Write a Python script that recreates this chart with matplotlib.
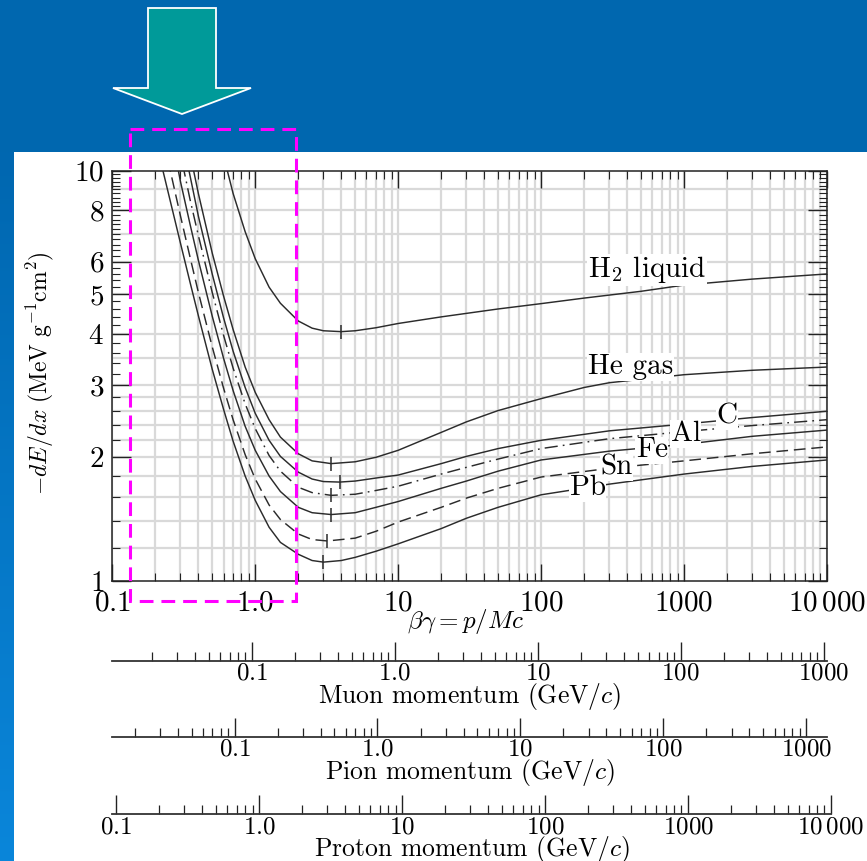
import numpy as np
import matplotlib
matplotlib.use('Agg')
import matplotlib.pyplot as plt
from matplotlib.patches import Rectangle, Polygon
from matplotlib.colors import LinearSegmentedColormap
from matplotlib.ticker import FixedLocator, FixedFormatter, NullFormatter, LogLocator

plt.rcParams['mathtext.fontset'] = 'cm'
plt.rcParams['font.family'] = ['cmr10', 'DejaVu Serif']
plt.rcParams['axes.unicode_minus'] = False
plt.rcParams['axes.formatter.use_mathtext'] = True

# ---------------- data ----------------
bg_h2 = [0.62, 0.7, 0.85, 1.0, 1.25, 1.5, 2, 2.5, 3, 4, 5, 7, 10, 20, 50, 100, 200, 500, 1000, 3000, 10000]
dedx_h2 = [10.4, 8.8, 7.1, 6.1, 5.2, 4.75, 4.30, 4.13, 4.07, 4.05, 4.07, 4.14, 4.24, 4.40, 4.60, 4.74, 4.89, 5.08, 5.26, 5.44, 5.60]

bg_he = [0.36, 0.4, 0.5, 0.6, 0.7, 0.85, 1.0, 1.25, 1.5, 2, 2.5, 3.4, 5, 7, 10, 20, 30, 50, 100, 200, 300, 1000, 3000, 10000]
dedx_he = [10.5, 8.8, 6.3, 4.95, 4.1, 3.32, 2.88, 2.47, 2.24, 2.04, 1.96, 1.93, 1.95, 2.00, 2.08, 2.30, 2.44, 2.60, 2.78, 2.96, 3.04, 3.18, 3.26, 3.32]

bg_c = [0.34, 0.4, 0.5, 0.6, 0.7, 0.85, 1.0, 1.25, 1.5, 2, 2.5, 3, 3.9, 5, 7, 10, 20, 30, 50, 100, 300, 1000, 3000, 10000]
dedx_c = [10.2, 7.75, 5.6, 4.38, 3.63, 2.96, 2.56, 2.20, 2.01, 1.84, 1.77, 1.745, 1.74, 1.75, 1.78, 1.81, 1.93, 2.01, 2.10, 2.20, 2.32, 2.41, 2.50, 2.59]

bg_al = [0.31, 0.35, 0.4, 0.5, 0.6, 0.7, 0.85, 1.0, 1.25, 1.5, 2, 2.5, 3.4, 5, 7, 10, 20, 30, 50, 100, 300, 1000, 3000, 10000]
dedx_al = [10.4, 8.5, 6.95, 5.05, 3.97, 3.30, 2.70, 2.35, 2.02, 1.85, 1.69, 1.64, 1.615, 1.625, 1.66, 1.70, 1.82, 1.89, 1.98, 2.10, 2.22, 2.31, 2.39, 2.47]

bg_fe = [0.285, 0.3, 0.35, 0.4, 0.5, 0.6, 0.7, 0.85, 1.0, 1.25, 1.5, 2, 2.5, 3.4, 5, 7, 10, 20, 30, 50, 100, 300, 1000, 3000, 10000]
dedx_fe = [10.3, 9.4, 7.4, 6.05, 4.42, 3.49, 2.91, 2.38, 2.08, 1.80, 1.65, 1.51, 1.465, 1.45, 1.465, 1.51, 1.56, 1.68, 1.75, 1.85, 1.97, 2.07, 2.15, 2.25, 2.33]

bg_sn = [0.245, 0.3, 0.35, 0.4, 0.5, 0.6, 0.7, 0.85, 1.0, 1.25, 1.5, 2, 2.5, 3.2, 5, 7, 10, 20, 30, 50, 100, 300, 1000, 3000, 10000]
dedx_sn = [10.6, 7.75, 6.15, 5.05, 3.72, 2.95, 2.47, 2.03, 1.77, 1.53, 1.41, 1.30, 1.26, 1.25, 1.27, 1.32, 1.39, 1.51, 1.59, 1.68, 1.79, 1.88, 1.96, 2.04, 2.12]

bg_pb = [0.22, 0.25, 0.3, 0.35, 0.4, 0.5, 0.6, 0.7, 0.85, 1.0, 1.25, 1.5, 2, 2.5, 3.0, 4, 5, 7, 10, 20, 30, 50, 100, 300, 1000, 3000, 10000]
dedx_pb = [10.4, 8.65, 6.65, 5.34, 4.43, 3.28, 2.62, 2.19, 1.80, 1.57, 1.35, 1.24, 1.16, 1.12, 1.11, 1.12, 1.14, 1.18, 1.23, 1.34, 1.42, 1.51, 1.62, 1.72, 1.82, 1.90, 1.97]

# positions of the minimum-ionisation tick marks
min_bg = [4.0, 3.4, 3.9, 3.4, 3.4, 3.2, 3.0]
min_dedx = [4.05, 1.93, 1.74, 1.615, 1.45, 1.25, 1.11]

x_ticks = [0.1, 1, 10, 100, 1000, 10000]
x_ticklabels = [r'$0.1$', r'$1.0$', r'$10$', r'$100$', r'$1000$', r'$10\,000$']
y_ticks = [1, 2, 3, 4, 5, 6, 8, 10]
y_ticklabels = [r'$1$', r'$2$', r'$3$', r'$4$', r'$5$', r'$6$', r'$8$', r'$10$']
grid_y = [1.2, 1.4, 1.6, 1.8, 2.0, 2.2, 2.4, 2.6, 2.8, 3.0, 3.5, 4, 5, 6, 7, 8, 9]

muon_mass = 0.10566
pion_mass = 0.13957
proton_mass = 0.93827
mom_ticks = [0.1, 1, 10, 100, 1000]
mom_labels = [r'$0.1$', r'$1.0$', r'$10$', r'$100$', r'$1000$']
proton_ticks = [0.1, 1, 10, 100, 1000, 10000]
proton_labels = [r'$0.1$', r'$1.0$', r'$10$', r'$100$', r'$1000$', r'$10\,000$']

# ---------------- layout ----------------
W, H = 867, 861
fig = plt.figure(figsize=(W / 100, H / 100), dpi=100)
fig.patch.set_facecolor('white')


def fx(px):
    return px / W


def fy(py):
    return 1 - py / H


# background decorations
bgax = fig.add_axes([0, 0, 1, 1], zorder=0)
bgax.axis('off')
cmap = LinearSegmentedColormap.from_list('b', ['#0067b0', '#0a86da'])
grad = np.linspace(0, 1, 256).reshape(-1, 1)
bgax.imshow(grad, extent=(0, 14, H, 152), cmap=cmap, aspect='auto')
bgax.add_patch(Rectangle((0, 0), W, 152, facecolor='#0067af', edgecolor='none'))
arrow = Polygon([(148, 8), (216, 8), (216, 88), (251, 88), (182, 114), (113, 88), (148, 88)],
                closed=True, facecolor='#009a99', edgecolor='white', lw=1.3)
bgax.add_patch(arrow)
bgax.set_xlim(0, W)
bgax.set_ylim(H, 0)

# main axes
x0, x1 = 112.3, 827.0
y0, y1 = 170.7, 580.7
ax = fig.add_axes([fx(x0), fy(y1), (x1 - x0) / W, (y1 - y0) / H], zorder=2)
ax.set_facecolor('white')
ax.set_xscale('log')
ax.set_yscale('log')
ax.set_xlim(0.1, 10000)
ax.set_ylim(1, 10)

gcol = '#d9d9d9'
ax.set_axisbelow(True)
ax.grid(True, which='both', axis='x', color=gcol, lw=1.6)
for g in grid_y:
    ax.axhline(g, color=gcol, lw=1.6, zorder=0.5)

ax.xaxis.set_major_locator(FixedLocator(x_ticks))
ax.xaxis.set_major_formatter(FixedFormatter(x_ticklabels))
ax.xaxis.set_minor_locator(LogLocator(base=10, subs=np.arange(2, 10)))
ax.xaxis.set_minor_formatter(NullFormatter())
ax.yaxis.set_major_locator(FixedLocator(y_ticks))
ax.yaxis.set_major_formatter(FixedFormatter(y_ticklabels))
yminor = [v for v in np.round(np.arange(1.2, 10.0, 0.2), 1) if v not in y_ticks]
ax.yaxis.set_minor_locator(FixedLocator(yminor))
ax.yaxis.set_minor_formatter(NullFormatter())
ax.tick_params(which='both', direction='in', top=True, right=True, color='#222222', labelsize=21)
ax.tick_params(axis='x', which='major', length=12, width=1.0, pad=7)
ax.tick_params(axis='x', which='minor', length=5.5, width=0.8)
ax.tick_params(axis='y', which='major', length=14, width=1.0, pad=6)
ax.tick_params(axis='y', which='minor', length=5.5, width=0.8)
for s in ax.spines.values():
    s.set_color('#222222')
    s.set_linewidth(1.1)

lc = '#2b2b2b'
lw = 1.05
ax.plot(bg_h2, dedx_h2, color=lc, lw=lw, zorder=3)
ax.plot(bg_he, dedx_he, color=lc, lw=lw, zorder=3)
ax.plot(bg_c, dedx_c, color=lc, lw=lw, zorder=3)
ax.plot(bg_al, dedx_al, color=lc, lw=lw, ls=(0, (9, 3.5, 1.2, 3.5)), zorder=3)
ax.plot(bg_fe, dedx_fe, color=lc, lw=lw, zorder=3)
ax.plot(bg_sn, dedx_sn, color=lc, lw=lw, ls=(0, (8, 4)), zorder=3)
ax.plot(bg_pb, dedx_pb, color=lc, lw=lw, zorder=3)
ax.plot(min_bg, min_dedx, ls='none', marker='|', ms=10, mew=1.1, color=lc, zorder=4)

box = dict(facecolor='white', edgecolor='none', pad=0.5)
tkw = dict(fontsize=21, va='center', zorder=5, bbox=box)
ax.text(212, 5.73, r'H$_2$ liquid', ha='left', **tkw)
ax.text(212, 3.32, 'He gas', ha='left', **tkw)
ax.text(1990, 2.52, 'C', ha='center', **tkw)
ax.text(1028, 2.28, 'Al', ha='center', **tkw)
ax.text(594, 2.08, 'Fe', ha='center', **tkw)
ax.text(338, 1.89, 'Sn', ha='center', **tkw)
ax.text(212, 1.68, 'Pb', ha='center', **tkw)

fig.text(fx(40), fy(373), r'$-dE/dx\ (\mathrm{MeV\ g^{-1}cm^{2}})$', rotation=90,
         ha='center', va='center', fontsize=17)
fig.text(fx(466), fy(621), r'$\beta\gamma = p/Mc$', ha='center', va='center', fontsize=18)

# momentum scales
scales = [
    (muon_mass, 660.5, mom_ticks, mom_labels, r'Muon momentum (GeV/$c$)', muon_mass * 10000),
    (pion_mass, 736.5, mom_ticks, mom_labels, r'Pion momentum (GeV/$c$)', pion_mass * 10000),
    (proton_mass, 814.0, proton_ticks, proton_labels, r'Proton momentum (GeV/$c$)', 10000),
]
dec = (x1 - x0) / 5.0
for mass, yline, ticks, labels, title, pmax in scales:
    right = x0 + dec * (np.log10(pmax / mass) + 1)
    a = fig.add_axes([fx(x0), fy(yline), (right - x0) / W, 0.0005], zorder=2)
    a.patch.set_visible(False)
    a.set_xscale('log')
    a.set_xlim(mass * 0.1, pmax)
    for side in ('left', 'right', 'top'):
        a.spines[side].set_visible(False)
    a.spines['bottom'].set_color('#333333')
    a.spines['bottom'].set_linewidth(1.3)
    a.set_yticks([])
    a.xaxis.set_major_locator(FixedLocator(ticks))
    a.xaxis.set_major_formatter(FixedFormatter(labels))
    a.xaxis.set_minor_locator(LogLocator(base=10, subs=np.arange(2, 10)))
    a.xaxis.set_minor_formatter(NullFormatter())
    a.tick_params(axis='x', which='major', direction='in', length=14, width=1.0,
                  labelsize=18, pad=1.5, color='#222222')
    a.tick_params(axis='x', which='minor', direction='in', length=6.5, width=0.9, color='#222222')
    a.set_xlabel(title, fontsize=18.5, labelpad=-3)

# magenta dashed highlight box
ov = fig.add_axes([0, 0, 1, 1], zorder=10)
ov.axis('off')
ov.patch.set_visible(False)
ov.set_xlim(0, W)
ov.set_ylim(H, 0)
ov.add_patch(Rectangle((130, 129), 166, 472, fill=False, edgecolor='#ff00ff',
                       lw=2.2, ls=(0, (4.5, 2.6))))

fig.savefig('out.png', dpi=100)
